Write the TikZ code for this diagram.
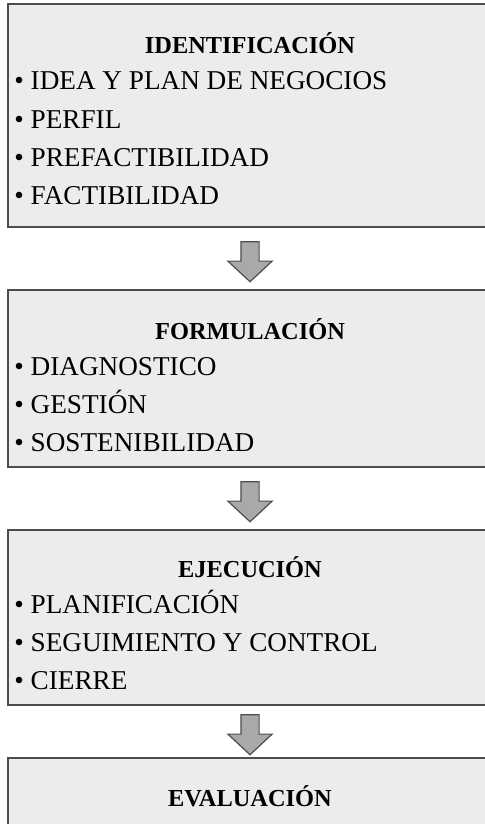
\documentclass[tikz,border=0pt]{standalone}
\usepackage{fontspec}
\setmainfont{Liberation Serif}
\usepackage{tikz}
\usetikzlibrary{positioning,calc,shapes.arrows}
\definecolor{boxfill}{HTML}{ECECEC}
\definecolor{boxline}{HTML}{4D4D4D}
\definecolor{arrowfill}{HTML}{A9A9A9}
\tikzset{
	stage/.style={draw=boxline,fill=boxfill,line width=1pt,minimum width=242pt,inner sep=0pt,outer sep=0pt},
	stage name/.style={inner sep=0pt,text height=9pt,text depth=0pt,font=\fontsize{12.2}{14}\selectfont\bfseries},
	item/.style={inner sep=0pt,text height=9pt,text depth=0pt,anchor=west,font=\fontsize{13.6}{16}\selectfont},
	next item/.style={below right=9.75pt and 0pt of #1.south west},
	blockarrow/.style={shape=single arrow,draw=boxline,fill=arrowfill,line width=.6pt,
		shape border rotate=270,minimum height=20pt,minimum width=21.5pt,
		single arrow head extend=6.5pt,single arrow tip angle=94,inner sep=4.25pt}
}
\begin{document}
\begin{tikzpicture}
	\useasboundingbox (0,0) rectangle (242.5pt,-412pt);
	% etapas
	\node[stage,minimum height=111.5pt] (ident) at (125pt,-57.75pt) {};
	\node[stage,minimum height=88.5pt] (form) at (125pt,-189.25pt) {};
	\node[stage,minimum height=87.5pt] (ejec) at (125pt,-308.75pt) {};
	\node[stage,minimum height=60pt] (eval) at (125pt,-409pt) {};
	% flechas
	\node[blockarrow] (a1) at ($(ident.south)!.5!(form.north)+(0,.5pt)$) {};
	\node[blockarrow] (a2) at ($(form.south)!.5!(ejec.north)+(0,.5pt)$) {};
	\node[blockarrow] (a3) at ($(ejec.south)!.5!(eval.north)+(0,.5pt)$) {};
	% identificacion
	\node[stage name] (identN) at ([yshift=-20.5pt]ident.north) {IDENTIFICACIÓN};
	\node[item] (identI1) at ([xshift=3pt,yshift=-38.5pt]ident.north west) {• IDEA Y PLAN DE NEGOCIOS};
	\node[item,next item=identI1] (identI2) {• PERFIL};
	\node[item,next item=identI2] (identI3) {• PREFACTIBILIDAD};
	\node[item,next item=identI3] (identI4) {• FACTIBILIDAD};
	% formulacion
	\node[stage name] (formN) at ([yshift=-20pt]form.north) {FORMULACIÓN};
	\node[item] (formI1) at ([xshift=3pt,yshift=-38pt]form.north west) {• DIAGNOSTICO};
	\node[item,next item=formI1] (formI2) {• GESTIÓN};
	\node[item,next item=formI2] (formI3) {• SOSTENIBILIDAD};
	% ejecucion
	\node[stage name] (ejecN) at ([yshift=-19pt]ejec.north) {EJECUCIÓN};
	\node[item] (ejecI1) at ([xshift=3pt,yshift=-37pt]ejec.north west) {• PLANIFICACIÓN};
	\node[item,next item=ejecI1] (ejecI2) {• SEGUIMIENTO Y CONTROL};
	\node[item,next item=ejecI2] (ejecI3) {• CIERRE};
	% evaluacion
	\node[stage name] (evalN) at ([yshift=-19.5pt]eval.north) {EVALUACIÓN};
\end{tikzpicture}
\end{document}
